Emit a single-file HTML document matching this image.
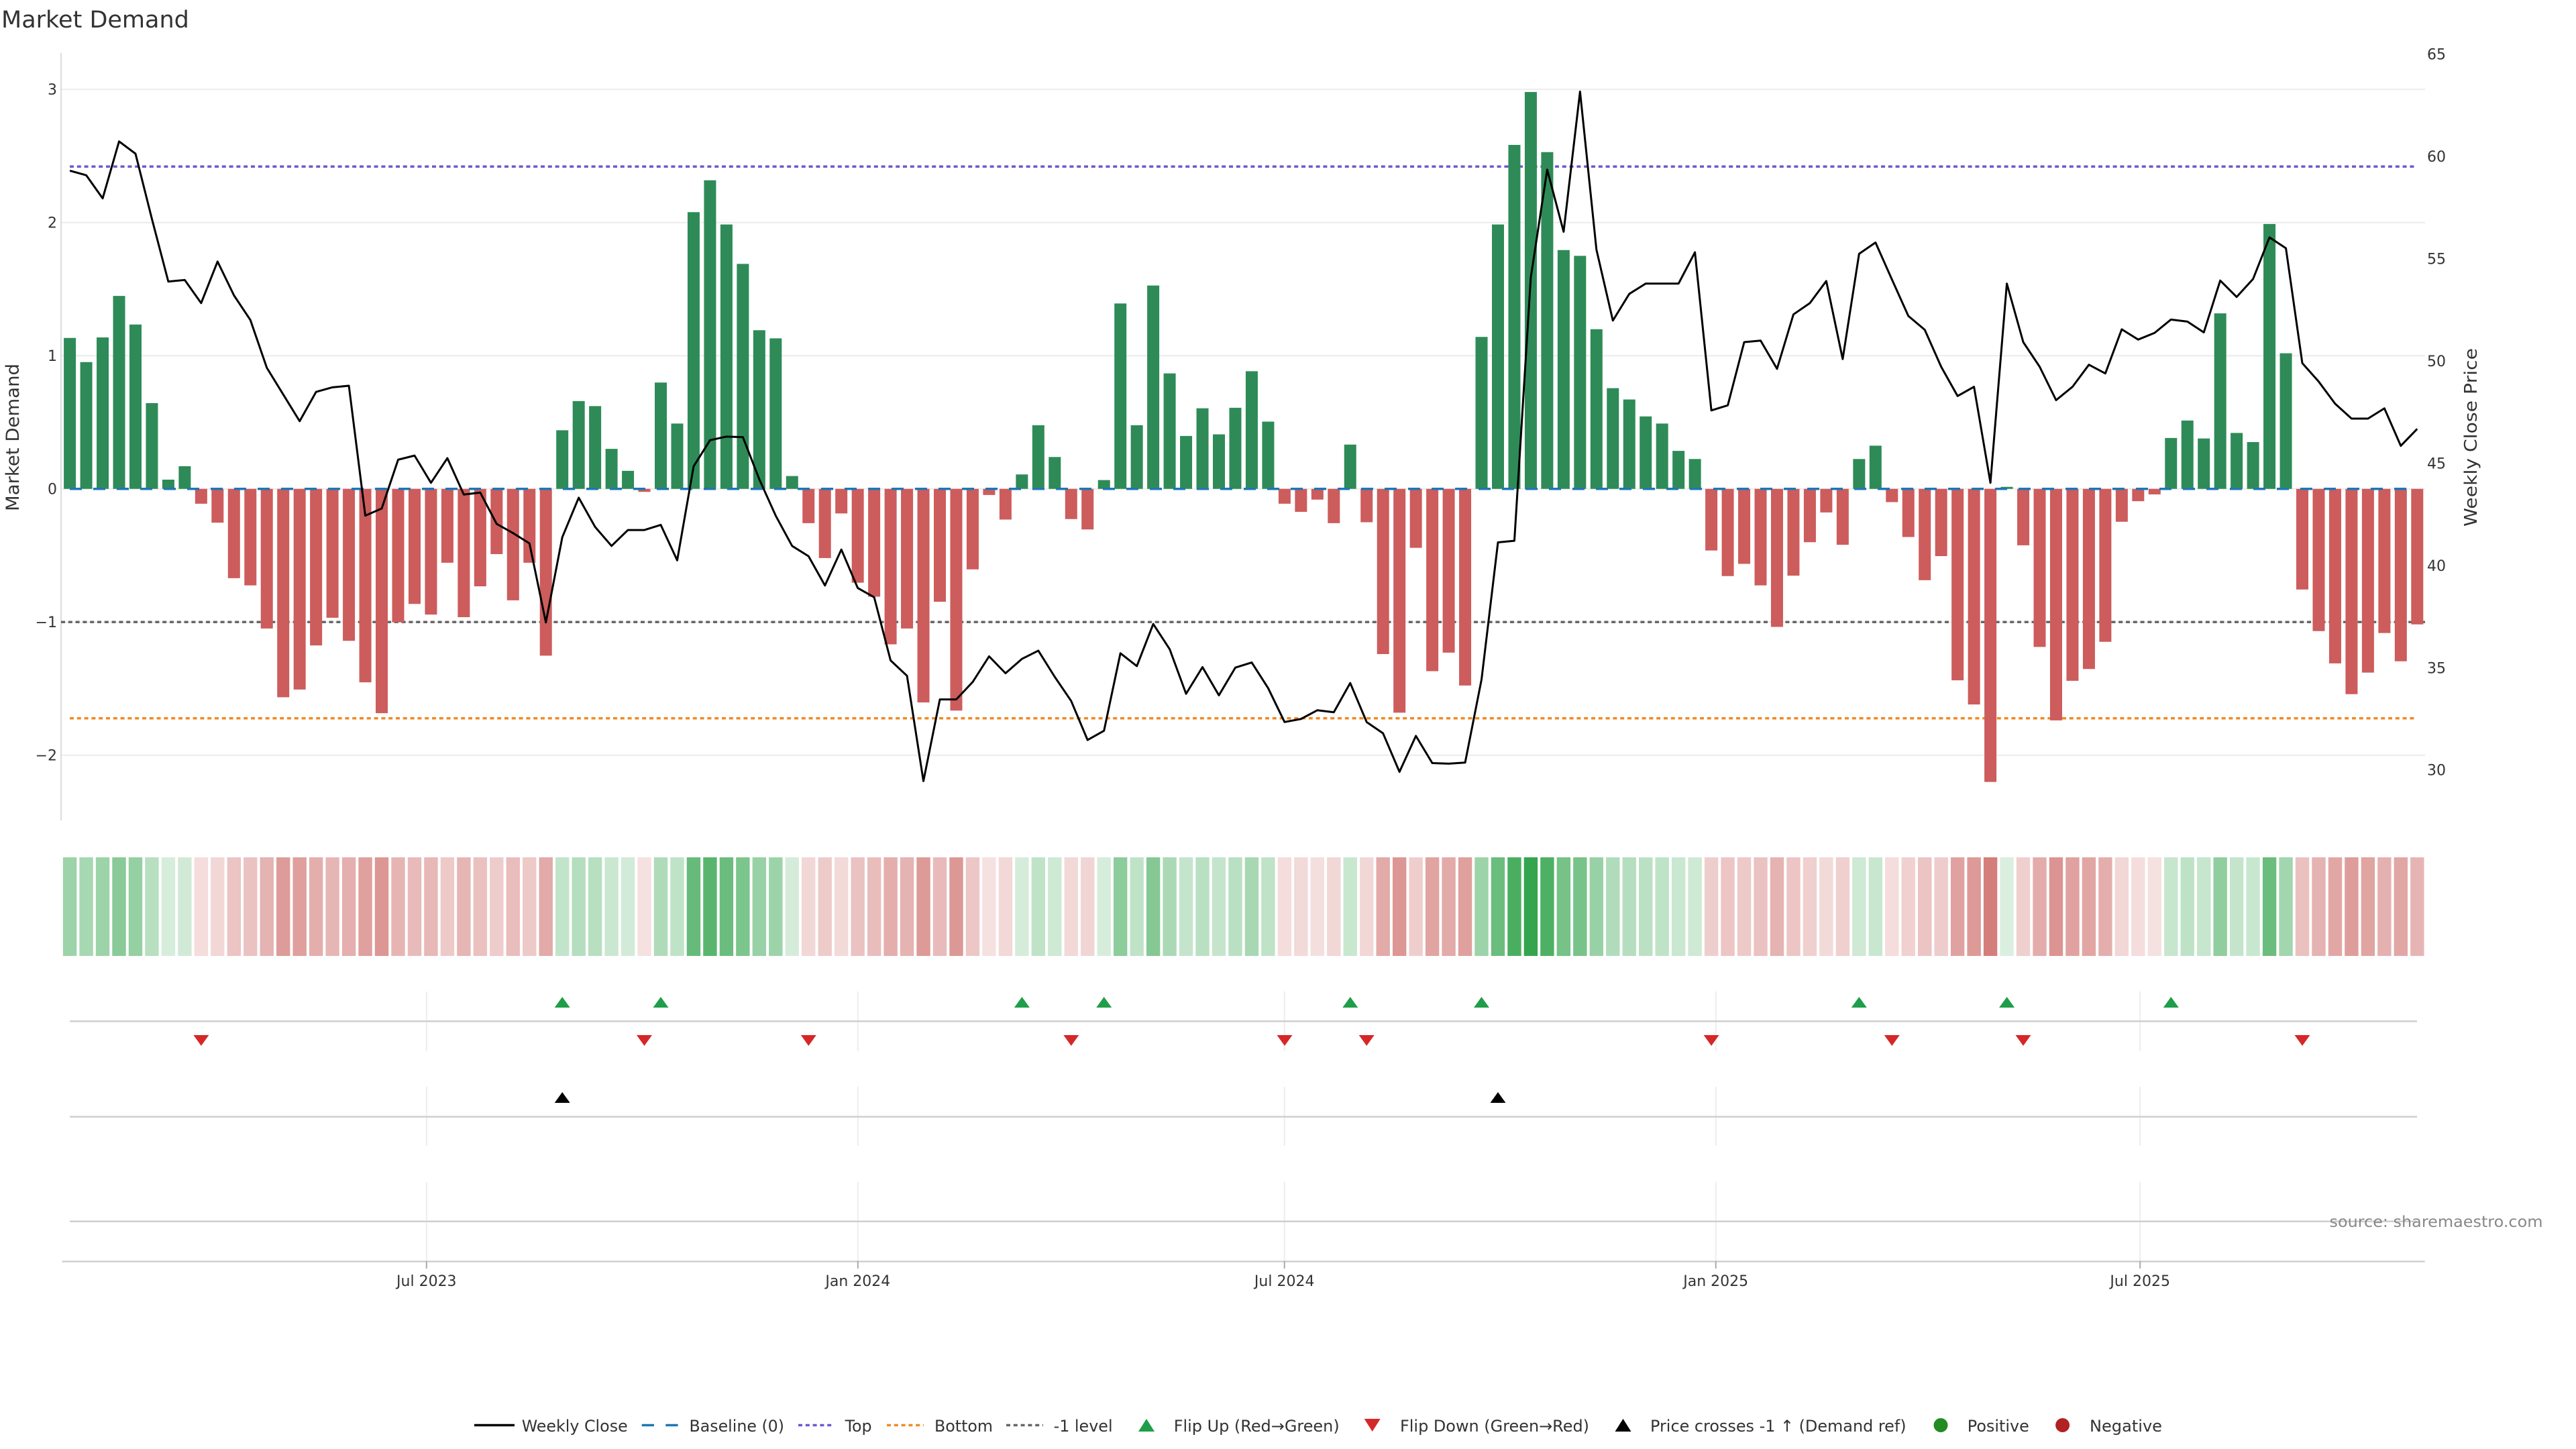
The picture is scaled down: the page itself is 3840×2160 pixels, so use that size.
<!DOCTYPE html>
<html><head><meta charset="utf-8"><style>
html,body{margin:0;padding:0;background:#fff;width:3840px;height:2160px;overflow:hidden}
svg{display:block}
</style></head><body>
<svg xmlns="http://www.w3.org/2000/svg" width="3840" height="2160" viewBox="0 0 3840 2160" font-family="'DejaVu Sans','Liberation Sans',sans-serif">
<rect width="3840" height="2160" fill="#fff"/>
<text x="2" y="41" font-size="35" fill="#333">Market Demand</text>

<g stroke="#ececec" stroke-width="2">
<line x1="91" y1="133.2" x2="3615" y2="133.2"/>
<line x1="91" y1="331.7" x2="3615" y2="331.7"/>
<line x1="91" y1="530.2" x2="3615" y2="530.2"/>
<line x1="91" y1="728.7" x2="3615" y2="728.7"/>
<line x1="91" y1="927.2" x2="3615" y2="927.2"/>
<line x1="91" y1="1125.7" x2="3615" y2="1125.7"/>
</g>
<line x1="91" y1="79" x2="91" y2="1223" stroke="#dcdcdc" stroke-width="2"/>

<g font-size="22" fill="#333" text-anchor="end">
<text x="85" y="141">3</text>
<text x="85" y="339.5">2</text>
<text x="85" y="538">1</text>
<text x="85" y="736.5">0</text>
<text x="85" y="935">−1</text>
<text x="85" y="1133.5">−2</text>
</g>
<g font-size="22" fill="#333">
<text x="3618" y="88.7">65</text>
<text x="3618" y="241.1">60</text>
<text x="3618" y="393.6">55</text>
<text x="3618" y="546">50</text>
<text x="3618" y="698.4">45</text>
<text x="3618" y="850.9">40</text>
<text x="3618" y="1003.3">35</text>
<text x="3618" y="1155.7">30</text>
</g>
<text transform="translate(28,652) rotate(-90)" text-anchor="middle" font-size="27" fill="#333" textLength="220" lengthAdjust="spacingAndGlyphs">Market Demand</text>
<text transform="translate(3692,652) rotate(-90)" text-anchor="middle" font-size="26" fill="#333" textLength="266" lengthAdjust="spacingAndGlyphs">Weekly Close Price</text>

<line x1="104" y1="248.2" x2="3603" y2="248.2" stroke="#6a5acd" stroke-width="3.5" stroke-dasharray="6 4.8"/>
<line x1="104" y1="1070.7" x2="3603" y2="1070.7" stroke="#f08a24" stroke-width="3.5" stroke-dasharray="6 4.8"/>
<line x1="91" y1="927.2" x2="3615" y2="927.2" stroke="#666" stroke-width="3.5" stroke-dasharray="6 4.8"/>

<!-- green bars -->
<path transform="matrix(24.47,0,0,-198.5,95.1,728.7)" fill="#2e8b57" d="
M0,0h.7356v1.133h-.7356z M1,0h.7356v.952h-.7356z M2,0h.7356v1.137h-.7356z M3,0h.7356v1.449h-.7356z
M4,0h.7356v1.234h-.7356z M5,0h.7356v.644h-.7356z M6,0h.7356v.069h-.7356z M7,0h.7356v.17h-.7356z
M30,0h.7356v.44h-.7356z M31,0h.7356v.659h-.7356z M32,0h.7356v.621h-.7356z M33,0h.7356v.3h-.7356z
M34,0h.7356v.135h-.7356z M36,0h.7356v.798h-.7356z M37,0h.7356v.49h-.7356z M38,0h.7356v2.078h-.7356z
M39,0h.7356v2.317h-.7356z M40,0h.7356v1.985h-.7356z M41,0h.7356v1.689h-.7356z M42,0h.7356v1.191h-.7356z
M43,0h.7356v1.13h-.7356z M44,0h.7356v.096h-.7356z M58,0h.7356v.108h-.7356z M59,0h.7356v.478h-.7356z
M60,0h.7356v.239h-.7356z M63,0h.7356v.066h-.7356z M64,0h.7356v1.392h-.7356z M65,0h.7356v.478h-.7356z
M66,0h.7356v1.527h-.7356z M67,0h.7356v.867h-.7356z M68,0h.7356v.397h-.7356z M69,0h.7356v.605h-.7356z
M70,0h.7356v.409h-.7356z M71,0h.7356v.609h-.7356z M72,0h.7356v.883h-.7356z M73,0h.7356v.505h-.7356z
M78,0h.7356v.332h-.7356z M86,0h.7356v1.141h-.7356z M87,0h.7356v1.985h-.7356z M88,0h.7356v2.583h-.7356z
M89,0h.7356v2.98h-.7356z M90,0h.7356v2.529h-.7356z M91,0h.7356v1.793h-.7356z M92,0h.7356v1.75h-.7356z
M93,0h.7356v1.199h-.7356z M94,0h.7356v.756h-.7356z M95,0h.7356v.671h-.7356z M96,0h.7356v.544h-.7356z
M97,0h.7356v.49h-.7356z M98,0h.7356v.285h-.7356z M99,0h.7356v.224h-.7356z M109,0h.7356v.224h-.7356z
M110,0h.7356v.324h-.7356z M118,0h.7356v.015h-.7356z M128,0h.7356v.382h-.7356z M129,0h.7356v.513h-.7356z
M130,0h.7356v.378h-.7356z M131,0h.7356v1.318h-.7356z M132,0h.7356v.42h-.7356z M133,0h.7356v.351h-.7356z
M134,0h.7356v1.989h-.7356z M135,0h.7356v1.018h-.7356z"/>
<!-- red bars -->
<path transform="matrix(24.47,0,0,-198.5,95.1,728.7)" fill="#cd5c5c" d="
M8,0h.7356v-.112h-.7356z M9,0h.7356v-.254h-.7356z M10,0h.7356v-.671h-.7356z M11,0h.7356v-.725h-.7356z
M12,0h.7356v-1.049h-.7356z M13,0h.7356v-1.565h-.7356z M14,0h.7356v-1.507h-.7356z M15,0h.7356v-1.176h-.7356z
M16,0h.7356v-.968h-.7356z M17,0h.7356v-1.141h-.7356z M18,0h.7356v-1.453h-.7356z M19,0h.7356v-1.685h-.7356z
M20,0h.7356v-1.002h-.7356z M21,0h.7356v-.864h-.7356z M22,0h.7356v-.944h-.7356z M23,0h.7356v-.555h-.7356z
M24,0h.7356v-.964h-.7356z M25,0h.7356v-.732h-.7356z M26,0h.7356v-.49h-.7356z M27,0h.7356v-.837h-.7356z
M28,0h.7356v-.555h-.7356z M29,0h.7356v-1.253h-.7356z M35,0h.7356v-.023h-.7356z M45,0h.7356v-.258h-.7356z
M46,0h.7356v-.52h-.7356z M47,0h.7356v-.185h-.7356z M48,0h.7356v-.705h-.7356z M49,0h.7356v-.81h-.7356z
M50,0h.7356v-1.168h-.7356z M51,0h.7356v-1.049h-.7356z M52,0h.7356v-1.604h-.7356z M53,0h.7356v-.848h-.7356z
M54,0h.7356v-1.665h-.7356z M55,0h.7356v-.605h-.7356z M56,0h.7356v-.046h-.7356z M57,0h.7356v-.231h-.7356z
M61,0h.7356v-.227h-.7356z M62,0h.7356v-.305h-.7356z M74,0h.7356v-.112h-.7356z M75,0h.7356v-.173h-.7356z
M76,0h.7356v-.081h-.7356z M77,0h.7356v-.258h-.7356z M79,0h.7356v-.251h-.7356z M80,0h.7356v-1.241h-.7356z
M81,0h.7356v-1.681h-.7356z M82,0h.7356v-.443h-.7356z M83,0h.7356v-1.369h-.7356z M84,0h.7356v-1.23h-.7356z
M85,0h.7356v-1.477h-.7356z M100,0h.7356v-.463h-.7356z M101,0h.7356v-.655h-.7356z M102,0h.7356v-.563h-.7356z
M103,0h.7356v-.725h-.7356z M104,0h.7356v-1.037h-.7356z M105,0h.7356v-.652h-.7356z M106,0h.7356v-.401h-.7356z
M107,0h.7356v-.177h-.7356z M108,0h.7356v-.42h-.7356z M111,0h.7356v-.1h-.7356z M112,0h.7356v-.362h-.7356z
M113,0h.7356v-.686h-.7356z M114,0h.7356v-.505h-.7356z M115,0h.7356v-1.438h-.7356z M116,0h.7356v-1.619h-.7356z
M117,0h.7356v-2.201h-.7356z M119,0h.7356v-.424h-.7356z M120,0h.7356v-1.187h-.7356z M121,0h.7356v-1.739h-.7356z
M122,0h.7356v-1.442h-.7356z M123,0h.7356v-1.353h-.7356z M124,0h.7356v-1.149h-.7356z M125,0h.7356v-.247h-.7356z
M126,0h.7356v-.093h-.7356z M127,0h.7356v-.042h-.7356z M136,0h.7356v-.756h-.7356z M137,0h.7356v-1.068h-.7356z
M138,0h.7356v-1.311h-.7356z M139,0h.7356v-1.542h-.7356z M140,0h.7356v-1.38h-.7356z M141,0h.7356v-1.083h-.7356z
M142,0h.7356v-1.295h-.7356z M143,0h.7356v-1.018h-.7356z"/>

<line x1="104" y1="728.7" x2="3603" y2="728.7" stroke="#1f77b4" stroke-width="3.5" stroke-dasharray="18 17"/>

<polyline transform="matrix(24.47,0,0,0.76531,104.1,60)" fill="none" stroke="#000" stroke-width="3" vector-effect="non-scaling-stroke" stroke-linejoin="round" points="0,254 1,263 2,308 3,197 4,221 5,348 6,470 7,467 8,512 9,431 10,497 11,545 12,638 13,690 14,742 15,685 16,676 17,673 18,926 19,912 20,817 21,809 22,862 23,814 24,885 25,881 26,942 27,960 28,980 29,1134 30,968 31,891 32,948 33,985 34,954 35,954 36,944 37,1013 38,830 39,779 40,772 41,773 42,855 43,926 44,985 45,1005 46,1062 47,992 48,1067 49,1085 50,1208 51,1238 52,1443 53,1284 54,1284 55,1250 56,1200 57,1233 58,1205 59,1189 60,1240 61,1287 62,1363 63,1345 64,1194 65,1219 66,1137 67,1186 68,1273 69,1221 70,1276 71,1222 72,1212 73,1262 74,1328 75,1322 76,1305 77,1309 78,1252 79,1328 80,1350 81,1425 82,1355 83,1408 84,1409 85,1407 86,1245 87,978 88,975 89,462 90,252 91,373 92,100 93,408 94,546 95,494 96,474 97,474 98,474 99,413 100,721 101,711 102,588 103,585 104,640 105,534 106,512 107,469 108,621 109,416 110,394 111,466 112,537 113,564 114,636 115,693 116,675 117,862 118,474 119,588 120,636 121,701 122,675 123,632 124,649 125,563 126,583 127,570 128,544 129,548 130,569 131,468 132,500 133,465 134,384 135,405 136,629 137,665 138,708 139,737 140,737 141,717 142,790 143,757"/>

<!-- heatmap: unit cells scaled by group transform -->
<g transform="matrix(24.47,0,0,147,93.9,1278)" fill="rgb(44,161,71)">
<rect x="0" width=".834" height="1" opacity=".47"/><rect x="1" width=".834" height="1" opacity=".42"/><rect x="2" width=".834" height="1" opacity=".47"/><rect x="3" width=".834" height="1" opacity=".56"/>
<rect x="4" width=".834" height="1" opacity=".5"/><rect x="5" width=".834" height="1" opacity=".34"/><rect x="6" width=".834" height="1" opacity=".19"/><rect x="7" width=".834" height="1" opacity=".22"/>
<rect x="30" width=".834" height="1" opacity=".29"/><rect x="31" width=".834" height="1" opacity=".35"/><rect x="32" width=".834" height="1" opacity=".34"/><rect x="33" width=".834" height="1" opacity=".25"/>
<rect x="34" width=".834" height="1" opacity=".21"/><rect x="36" width=".834" height="1" opacity=".38"/><rect x="37" width=".834" height="1" opacity=".3"/><rect x="38" width=".834" height="1" opacity=".72"/>
<rect x="39" width=".834" height="1" opacity=".79"/><rect x="40" width=".834" height="1" opacity=".7"/><rect x="41" width=".834" height="1" opacity=".62"/><rect x="42" width=".834" height="1" opacity=".49"/>
<rect x="43" width=".834" height="1" opacity=".47"/><rect x="44" width=".834" height="1" opacity=".2"/><rect x="58" width=".834" height="1" opacity=".2"/><rect x="59" width=".834" height="1" opacity=".3"/>
<rect x="60" width=".834" height="1" opacity=".23"/><rect x="63" width=".834" height="1" opacity=".19"/><rect x="64" width=".834" height="1" opacity=".54"/><rect x="65" width=".834" height="1" opacity=".3"/>
<rect x="66" width=".834" height="1" opacity=".58"/><rect x="67" width=".834" height="1" opacity=".4"/><rect x="68" width=".834" height="1" opacity=".28"/><rect x="69" width=".834" height="1" opacity=".33"/>
<rect x="70" width=".834" height="1" opacity=".28"/><rect x="71" width=".834" height="1" opacity=".33"/><rect x="72" width=".834" height="1" opacity=".41"/><rect x="73" width=".834" height="1" opacity=".3"/>
<rect x="78" width=".834" height="1" opacity=".26"/><rect x="86" width=".834" height="1" opacity=".47"/><rect x="87" width=".834" height="1" opacity=".7"/><rect x="88" width=".834" height="1" opacity=".86"/>
<rect x="89" width=".834" height="1" opacity=".96"/><rect x="90" width=".834" height="1" opacity=".84"/><rect x="91" width=".834" height="1" opacity=".65"/><rect x="92" width=".834" height="1" opacity=".64"/>
<rect x="93" width=".834" height="1" opacity=".49"/><rect x="94" width=".834" height="1" opacity=".37"/><rect x="95" width=".834" height="1" opacity=".35"/><rect x="96" width=".834" height="1" opacity=".32"/>
<rect x="97" width=".834" height="1" opacity=".3"/><rect x="98" width=".834" height="1" opacity=".25"/><rect x="99" width=".834" height="1" opacity=".23"/><rect x="109" width=".834" height="1" opacity=".23"/>
<rect x="110" width=".834" height="1" opacity=".26"/><rect x="118" width=".834" height="1" opacity=".17"/><rect x="128" width=".834" height="1" opacity=".27"/><rect x="129" width=".834" height="1" opacity=".31"/>
<rect x="130" width=".834" height="1" opacity=".27"/><rect x="131" width=".834" height="1" opacity=".52"/><rect x="132" width=".834" height="1" opacity=".28"/><rect x="133" width=".834" height="1" opacity=".26"/>
<rect x="134" width=".834" height="1" opacity=".7"/><rect x="135" width=".834" height="1" opacity=".44"/>
</g>
<g transform="matrix(24.47,0,0,147,93.9,1278)" fill="rgb(198,86,82)">
<rect x="8" width=".834" height="1" opacity=".2"/><rect x="9" width=".834" height="1" opacity=".24"/><rect x="10" width=".834" height="1" opacity=".35"/><rect x="11" width=".834" height="1" opacity=".36"/>
<rect x="12" width=".834" height="1" opacity=".45"/><rect x="13" width=".834" height="1" opacity=".59"/><rect x="14" width=".834" height="1" opacity=".57"/><rect x="15" width=".834" height="1" opacity=".48"/>
<rect x="16" width=".834" height="1" opacity=".43"/><rect x="17" width=".834" height="1" opacity=".47"/><rect x="18" width=".834" height="1" opacity=".56"/><rect x="19" width=".834" height="1" opacity=".62"/>
<rect x="20" width=".834" height="1" opacity=".44"/><rect x="21" width=".834" height="1" opacity=".4"/><rect x="22" width=".834" height="1" opacity=".42"/><rect x="23" width=".834" height="1" opacity=".32"/>
<rect x="24" width=".834" height="1" opacity=".43"/><rect x="25" width=".834" height="1" opacity=".37"/><rect x="26" width=".834" height="1" opacity=".3"/><rect x="27" width=".834" height="1" opacity=".39"/>
<rect x="28" width=".834" height="1" opacity=".32"/><rect x="29" width=".834" height="1" opacity=".5"/><rect x="35" width=".834" height="1" opacity=".18"/><rect x="45" width=".834" height="1" opacity=".24"/>
<rect x="46" width=".834" height="1" opacity=".31"/><rect x="47" width=".834" height="1" opacity=".22"/><rect x="48" width=".834" height="1" opacity=".36"/><rect x="49" width=".834" height="1" opacity=".39"/>
<rect x="50" width=".834" height="1" opacity=".48"/><rect x="51" width=".834" height="1" opacity=".45"/><rect x="52" width=".834" height="1" opacity=".6"/><rect x="53" width=".834" height="1" opacity=".4"/>
<rect x="54" width=".834" height="1" opacity=".61"/><rect x="55" width=".834" height="1" opacity=".33"/><rect x="56" width=".834" height="1" opacity=".18"/><rect x="57" width=".834" height="1" opacity=".23"/>
<rect x="61" width=".834" height="1" opacity=".23"/><rect x="62" width=".834" height="1" opacity=".25"/><rect x="74" width=".834" height="1" opacity=".2"/><rect x="75" width=".834" height="1" opacity=".22"/>
<rect x="76" width=".834" height="1" opacity=".19"/><rect x="77" width=".834" height="1" opacity=".24"/><rect x="79" width=".834" height="1" opacity=".24"/><rect x="80" width=".834" height="1" opacity=".5"/>
<rect x="81" width=".834" height="1" opacity=".62"/><rect x="82" width=".834" height="1" opacity=".29"/><rect x="83" width=".834" height="1" opacity=".54"/><rect x="84" width=".834" height="1" opacity=".5"/>
<rect x="85" width=".834" height="1" opacity=".56"/><rect x="100" width=".834" height="1" opacity=".29"/><rect x="101" width=".834" height="1" opacity=".34"/><rect x="102" width=".834" height="1" opacity=".32"/>
<rect x="103" width=".834" height="1" opacity=".36"/><rect x="104" width=".834" height="1" opacity=".45"/><rect x="105" width=".834" height="1" opacity=".34"/><rect x="106" width=".834" height="1" opacity=".28"/>
<rect x="107" width=".834" height="1" opacity=".22"/><rect x="108" width=".834" height="1" opacity=".28"/><rect x="111" width=".834" height="1" opacity=".2"/><rect x="112" width=".834" height="1" opacity=".27"/>
<rect x="113" width=".834" height="1" opacity=".35"/><rect x="114" width=".834" height="1" opacity=".3"/><rect x="115" width=".834" height="1" opacity=".55"/><rect x="116" width=".834" height="1" opacity=".6"/>
<rect x="117" width=".834" height="1" opacity=".76"/><rect x="119" width=".834" height="1" opacity=".28"/><rect x="120" width=".834" height="1" opacity=".49"/><rect x="121" width=".834" height="1" opacity=".63"/>
<rect x="122" width=".834" height="1" opacity=".55"/><rect x="123" width=".834" height="1" opacity=".53"/><rect x="124" width=".834" height="1" opacity=".48"/><rect x="125" width=".834" height="1" opacity=".24"/>
<rect x="126" width=".834" height="1" opacity=".2"/><rect x="127" width=".834" height="1" opacity=".18"/><rect x="136" width=".834" height="1" opacity=".37"/><rect x="137" width=".834" height="1" opacity=".45"/>
<rect x="138" width=".834" height="1" opacity=".52"/><rect x="139" width=".834" height="1" opacity=".58"/><rect x="140" width=".834" height="1" opacity=".54"/><rect x="141" width=".834" height="1" opacity=".46"/>
<rect x="142" width=".834" height="1" opacity=".52"/><rect x="143" width=".834" height="1" opacity=".44"/>
</g>

<g stroke="#ededed" stroke-width="2">
<path d="M635.8,1478V1567M635.8,1620V1708M635.8,1762V1880 M1278.8,1478V1567M1278.8,1620V1708M1278.8,1762V1880 M1914.7,1478V1567M1914.7,1620V1708M1914.7,1762V1880 M2557.7,1478V1567M2557.7,1620V1708M2557.7,1762V1880 M3190.2,1478V1567M3190.2,1620V1708M3190.2,1762V1880"/>
</g>
<g stroke="#cfcfcf" stroke-width="2.5">
<line x1="104" y1="1522.4" x2="3603" y2="1522.4"/>
<line x1="104" y1="1664.7" x2="3603" y2="1664.7"/>
<line x1="104" y1="1820.8" x2="3603" y2="1820.8"/>
<line x1="92.5" y1="1880.5" x2="3614.6" y2="1880.5"/>
</g>
<path stroke="#aaa" stroke-width="2" d="M635.8,1880V1891M1278.8,1880V1891M1914.7,1880V1891M2557.7,1880V1891M3190.2,1880V1891"/>
<g font-size="22" fill="#333" text-anchor="middle">
<text x="635.8" y="1917">Jul 2023</text>
<text x="1278.8" y="1917">Jan 2024</text>
<text x="1914.7" y="1917">Jul 2024</text>
<text x="2557.7" y="1917">Jan 2025</text>
<text x="3190.2" y="1917">Jul 2025</text>
</g>

<path fill="#1f9e4a" d="M826.7,1502h23l-11.5,-16z M973.5,1502h23l-11.5,-16z M1511.9,1502h23l-11.5,-16z M1634.2,1502h23l-11.5,-16z M2001.3,1502h23l-11.5,-16z M2197,1502h23l-11.5,-16z M2759.8,1502h23l-11.5,-16z M2980.1,1502h23l-11.5,-16z M3224.8,1502h23l-11.5,-16z"/>
<path fill="#d62728" d="M288.4,1543h23l-11.5,16z M949,1543h23l-11.5,16z M1193.8,1543h23l-11.5,16z M1585.3,1543h23l-11.5,16z M1903.5,1543h23l-11.5,16z M2025.7,1543h23l-11.5,16z M2539.6,1543h23l-11.5,16z M2808.8,1543h23l-11.5,16z M3004.5,1543h23l-11.5,16z M3420.5,1543h23l-11.5,16z"/>
<path fill="#000" d="M826.7,1644h23l-11.5,-16z M2221.5,1644h23l-11.5,-16z"/>

<text x="3472.5" y="1829" font-size="23" fill="#888" textLength="318" lengthAdjust="spacingAndGlyphs">source: sharemaestro.com</text>

<line x1="707" y1="2124.5" x2="767" y2="2124.5" stroke="#000" stroke-width="3.5"/>
<line x1="956.7" y1="2124.5" x2="1010.7" y2="2124.5" stroke="#1f77b4" stroke-width="3.5" stroke-dasharray="18.3 17.3"/>
<line x1="1190" y1="2124.5" x2="1244" y2="2124.5" stroke="#6a5acd" stroke-width="3.5" stroke-dasharray="6 4.8"/>
<line x1="1322" y1="2124.5" x2="1377" y2="2124.5" stroke="#f08a24" stroke-width="3.5" stroke-dasharray="6 4.8"/>
<line x1="1500" y1="2124.5" x2="1555" y2="2124.5" stroke="#666" stroke-width="3.5" stroke-dasharray="6 4.8"/>
<path d="M1697,2134h24l-12,-19z" fill="#1f9e4a"/>
<path d="M2033.7,2115h24l-12,19z" fill="#d62728"/>
<path d="M2407.5,2134h24l-12,-19z" fill="#000"/>
<circle cx="2893" cy="2124.5" r="10.5" fill="#228b22"/>
<circle cx="3074.6" cy="2124.5" r="10.5" fill="#b22222"/>
<g font-size="24" fill="#333">
<text x="777.7" y="2134" textLength="158" lengthAdjust="spacingAndGlyphs">Weekly Close</text>
<text x="1027.5" y="2134" textLength="141.5" lengthAdjust="spacingAndGlyphs">Baseline (0)</text>
<text x="1259.6" y="2134" textLength="40" lengthAdjust="spacingAndGlyphs">Top</text>
<text x="1393" y="2134" textLength="87" lengthAdjust="spacingAndGlyphs">Bottom</text>
<text x="1570.6" y="2134" textLength="88" lengthAdjust="spacingAndGlyphs">-1 level</text>
<text x="1749.7" y="2134" textLength="247" lengthAdjust="spacingAndGlyphs">Flip Up (Red→Green)</text>
<text x="2087" y="2134" textLength="282" lengthAdjust="spacingAndGlyphs">Flip Down (Green→Red)</text>
<text x="2460" y="2134" textLength="381.6" lengthAdjust="spacingAndGlyphs">Price crosses -1 ↑ (Demand ref)</text>
<text x="2932.8" y="2134" textLength="92" lengthAdjust="spacingAndGlyphs">Positive</text>
<text x="3115" y="2134" textLength="108" lengthAdjust="spacingAndGlyphs">Negative</text>
</g>
</svg>
</body></html>
